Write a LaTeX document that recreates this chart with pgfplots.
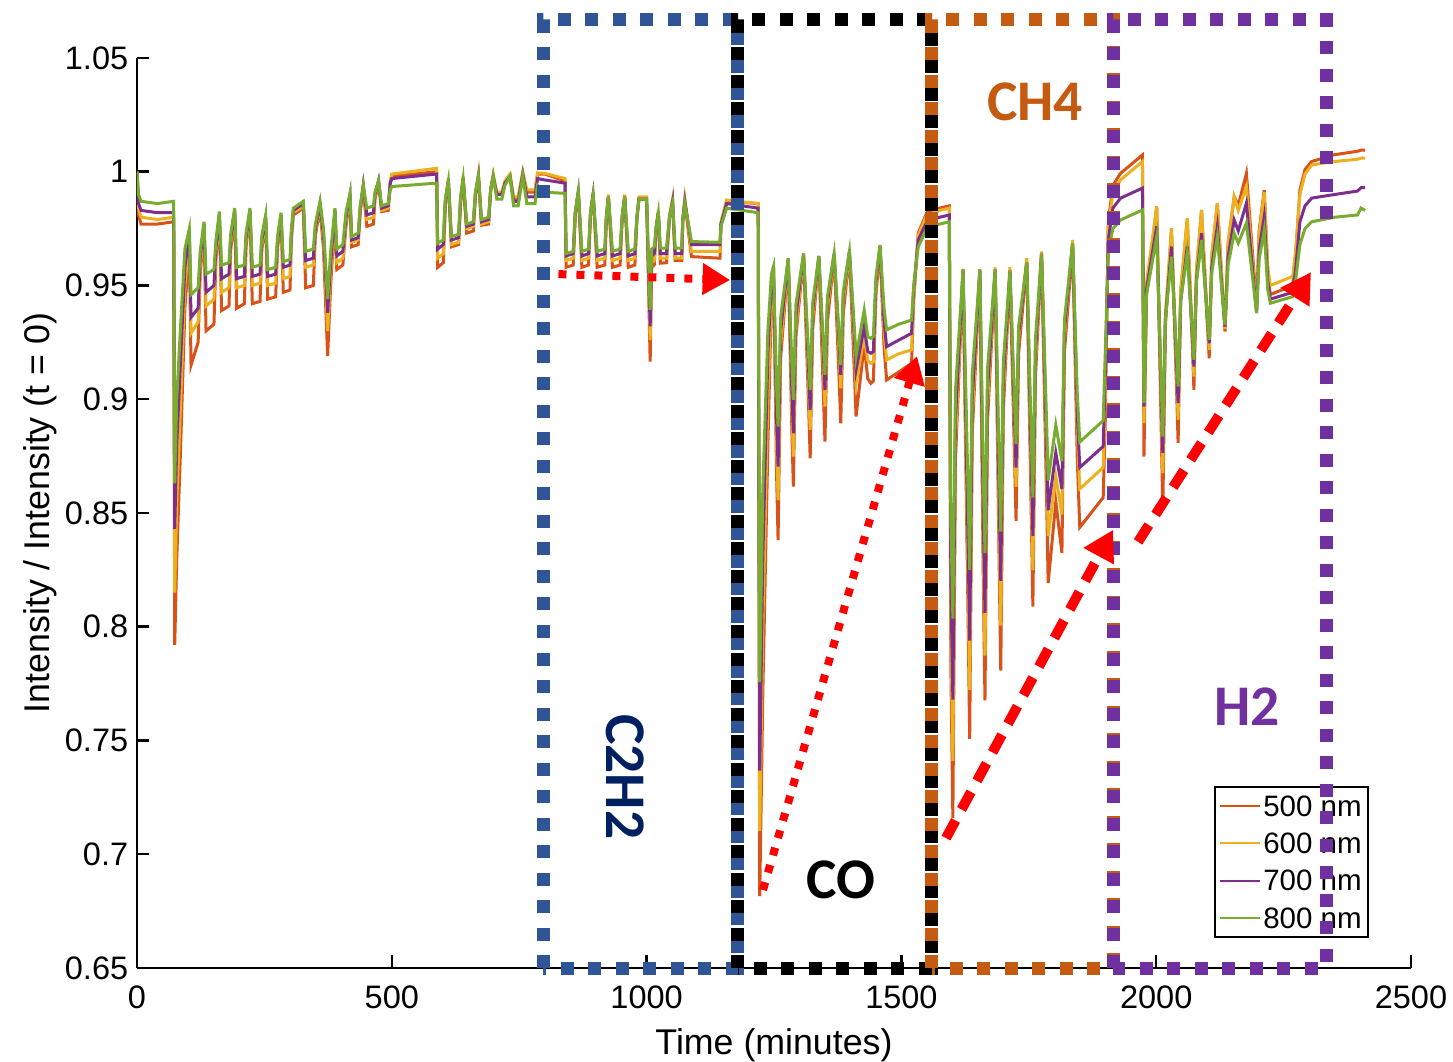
\documentclass[border=0pt]{standalone}
\usepackage{pgfplots}
\pgfplotsset{compat=1.18}
\usepackage{pgfplotstable}
\usepackage{fontspec}
\setmainfont{Liberation Sans}
\newfontfamily\calibri{Carlito}
\usetikzlibrary{arrows.meta}

\definecolor{c500}{RGB}{217,83,25}
\definecolor{c600}{RGB}{237,177,32}
\definecolor{c700}{RGB}{126,47,142}
\definecolor{c800}{RGB}{119,172,48}
\definecolor{boxblue}{RGB}{47,85,151}
\definecolor{boxorange}{RGB}{197,90,17}
\definecolor{boxpurple}{RGB}{112,48,160}
\definecolor{navy}{RGB}{0,32,96}

\pgfplotstableread{
t r y p g
0 1.000 1.000 1.000 1.000
3 0.981 0.984 0.986 0.990
8 0.977 0.980 0.983 0.987
40 0.977 0.979 0.982 0.986
72 0.978 0.980 0.982 0.987
74 0.792 0.815 0.843 0.863
78 0.830 0.855 0.880 0.900
85 0.875 0.895 0.915 0.930
94 0.940 0.950 0.958 0.966
102.7 0.968 0.971 0.973 0.975
106 0.915 0.929 0.936 0.946
120 0.925 0.934 0.940 0.949
124 0.955 0.958 0.962 0.965
131.5 0.975 0.976 0.977 0.978
135.5 0.930 0.941 0.947 0.955
151 0.933 0.944 0.950 0.957
155 0.962 0.965 0.967 0.970
161.6 0.979 0.980 0.981 0.9825
166 0.939 0.947 0.953 0.959
180.5 0.941 0.949 0.955 0.960
184 0.966 0.969 0.971 0.973
191.7 0.981 0.982 0.983 0.984
195.6 0.940 0.949 0.953 0.958
210.6 0.942 0.950 0.954 0.959
214 0.967 0.969 0.971 0.973
221.7 0.981 0.982 0.983 0.984
226.3 0.942 0.950 0.954 0.958
241.4 0.943 0.951 0.955 0.959
245 0.966 0.968 0.970 0.972
252.5 0.978 0.979 0.980 0.981
256.4 0.944 0.950 0.954 0.957
272.1 0.945 0.951 0.955 0.958
276 0.967 0.969 0.970 0.972
282.6 0.979 0.980 0.981 0.982
287.1 0.947 0.953 0.958 0.9605
300.2 0.948 0.954 0.959 0.9615
303 0.970 0.972 0.973 0.975
306.8 0.981 0.982 0.983 0.984
326.4 0.984 0.985 0.986 0.987
331 0.949 0.958 0.961 0.965
346 0.950 0.959 0.962 0.966
350 0.972 0.974 0.975 0.977
359.1 0.984 0.985 0.986 0.987
366 0.966 0.970 0.972 0.975
374.1 0.919 0.930 0.938 0.944
380 0.950 0.956 0.960 0.965
388.5 0.981 0.982 0.983 0.984
392 0.957 0.960 0.963 0.966
404 0.959 0.962 0.965 0.968
410 0.976 0.978 0.980 0.982
418 0.988 0.989 0.990 0.9905
421 0.967 0.969 0.970 0.9715
434 0.968 0.970 0.971 0.973
438 0.982 0.983 0.984 0.985
444 0.993 0.994 0.994 0.994
451 0.976 0.979 0.981 0.984
464 0.977 0.980 0.982 0.985
467 0.988 0.989 0.990 0.991
474 0.995 0.996 0.996 0.996
480 0.9825 0.983 0.984 0.985
493 0.983 0.984 0.985 0.986
497 0.995 0.996 0.995 0.992
500 0.998 0.999 0.997 0.9935
588 1.000 1.0015 0.999 0.995
590 0.958 0.962 0.966 0.9686
601 0.960 0.964 0.968 0.970
605 0.985 0.986 0.987 0.988
611 0.996 0.997 0.996 0.996
617 0.967 0.968 0.970 0.9715
631 0.968 0.969 0.971 0.9725
635 0.986 0.987 0.988 0.989
640 0.997 0.998 0.997 0.997
647 0.973 0.975 0.976 0.977
660 0.974 0.976 0.977 0.978
664 0.989 0.990 0.990 0.991
670 0.998 0.999 0.998 0.998
676 0.9765 0.977 0.978 0.979
690 0.977 0.978 0.979 0.980
694 0.992 0.992 0.992 0.992
699 0.998 0.999 0.998 0.998
706 0.990 0.991 0.990 0.988
716 0.990 0.991 0.990 0.988
722 0.995 0.996 0.995 0.994
732 0.998 0.999 0.998 0.998
739 0.988 0.989 0.987 0.985
748 0.988 0.989 0.987 0.985
757 0.999 1.000 0.999 0.998
765 0.991 0.992 0.989 0.986
781 0.991 0.992 0.989 0.986
786 0.999 0.9995 0.997 0.994
800 0.999 0.9993 0.9964 0.991
840 0.996 0.997 0.995 0.9905
842 0.958 0.961 0.963 0.964
856 0.959 0.962 0.964 0.965
860 0.981 0.982 0.982 0.982
866 0.991 0.992 0.991 0.9913
873 0.958 0.961 0.963 0.965
886 0.959 0.962 0.964 0.966
890 0.981 0.982 0.982 0.982
895 0.990 0.991 0.990 0.9898
903 0.958 0.961 0.963 0.965
918 0.959 0.962 0.964 0.966
921 0.979 0.980 0.980 0.980
925 0.989 0.990 0.989 0.989
933 0.958 0.961 0.963 0.965
948 0.959 0.962 0.964 0.966
952 0.979 0.980 0.980 0.980
957 0.989 0.990 0.989 0.989
964 0.958 0.961 0.963 0.965
977 0.959 0.962 0.964 0.966
981 0.979 0.980 0.980 0.980
985 0.988 0.989 0.988 0.988
1000 0.988 0.989 0.988 0.988
1003 0.958 0.961 0.963 0.966
1007 0.9166 0.926 0.932 0.9393
1010 0.958 0.960 0.963 0.966
1015 0.959 0.961 0.964 0.967
1019 0.975 0.976 0.976 0.976
1023 0.982 0.983 0.982 0.9818
1027 0.9598 0.962 0.964 0.9664
1039 0.960 0.962 0.964 0.9665
1045 0.980 0.981 0.980 0.980
1051 0.987 0.988 0.987 0.986
1056 0.961 0.962 0.964 0.9664
1069 0.961 0.962 0.964 0.9665
1071 0.978 0.979 0.979 0.979
1075 0.987 0.988 0.987 0.986
1088 0.9627 0.965 0.968 0.9693
1144 0.962 0.965 0.968 0.969
1146 0.977 0.978 0.977 0.976
1157 0.987 0.9876 0.986 0.984
1219 0.986 0.986 0.984 0.982
1222 0.6816 0.7102 0.7368 0.7757
1228 0.770 0.800 0.830 0.860
1238 0.880 0.900 0.920 0.930
1245 0.944 0.948 0.952 0.955
1249 0.957 0.958 0.958 0.9583
1255 0.868 0.881 0.892 0.9055
1258 0.8381 0.8557 0.8704 0.888
1263 0.918 0.9241 0.930 0.936
1278 0.961 0.961 0.962 0.962
1285 0.8865 0.8964 0.9043 0.9153
1288 0.8616 0.8748 0.885 0.8997
1293 0.9275 0.9321 0.9364 0.9415
1308 0.963 0.963 0.964 0.964
1318 0.8963 0.9056 0.9125 0.919
1321 0.874 0.8865 0.8953 0.904
1326 0.9312 0.9362 0.9393 0.9424
1338 0.962 0.962 0.963 0.963
1347 0.9016 0.9131 0.9188 0.9238
1350 0.8814 0.8968 0.904 0.9107
1355 0.9344 0.9405 0.943 0.9453
1368 0.963 0.963 0.964 0.964
1378 0.9078 0.9194 0.924 0.9273
1381 0.8894 0.9048 0.9107 0.9151
1386 0.9379 0.9433 0.946 0.9475
1398 0.964 0.964 0.965 0.965
1408 0.9103 0.9213 0.9259 0.9303
1411 0.8924 0.907 0.9129 0.9187
1427 0.9239 0.9275 0.9319 0.9392
1434 0.909 0.917 0.921 0.9275
1440 0.907 0.9158 0.9202 0.9268
1445 0.908 0.9165 0.921 0.9275
1450 0.9462 0.9498 0.9514 0.9537
1458 0.966 0.967 0.967 0.9678
1466 0.923 0.9297 0.9341 0.9398
1471 0.9085 0.9173 0.9231 0.9305
1495 0.912 0.920 0.926 0.933
1520 0.9158 0.9217 0.929 0.9348
1524 0.943 0.945 0.948 0.950
1533 0.973 0.972 0.970 0.967
1550 0.982 0.981 0.978 0.975
1575 0.984 0.983 0.980 0.977
1594 0.985 0.984 0.981 0.978
1597 0.783 0.802 0.821 0.847
1601 0.716 0.741 0.768 0.8036
1606 0.8729 0.8816 0.891 0.9035
1621 0.956 0.957 0.957 0.9573
1631 0.802 0.8185 0.8347 0.8581
1634 0.7507 0.7723 0.7939 0.825
1639 0.8848 0.8924 0.900 0.9108
1654 0.956 0.957 0.957 0.957
1661 0.8147 0.8297 0.8438 0.8636
1664 0.7676 0.7873 0.8061 0.8324
1669 0.8907 0.8983 0.9042 0.9134
1684 0.956 0.958 0.957 0.957
1692 0.8245 0.8399 0.8544 0.8706
1695 0.7807 0.8005 0.8202 0.8418
1700 0.8949 0.9029 0.9087 0.9163
1713 0.956 0.958 0.9565 0.9564
1722 0.874 0.8856 0.8916 0.8993
1725 0.8465 0.8615 0.870 0.8803
1730 0.9203 0.9268 0.9285 0.9321
1746 0.960 0.962 0.960 0.960
1755 0.8467 0.8592 0.870 0.8826
1758 0.8089 0.8249 0.8399 0.8568
1763 0.9097 0.916 0.9206 0.9264
1775 0.964 0.965 0.964 0.9639
1785 0.8554 0.8712 0.8794 0.8892
1788 0.8192 0.8399 0.8512 0.8643
1803 0.8549 0.866 0.8765 0.8887
1811 0.840 0.855 0.866 0.878
1815 0.8324 0.8493 0.8605 0.8728
1820 0.9209 0.9278 0.9308 0.935
1836 0.968 0.970 0.9686 0.9686
1845 0.8748 0.888 0.8947 0.9031
1850 0.8437 0.8606 0.870 0.8812
1896 0.8568 0.870 0.8793 0.8906
1900 0.890 0.900 0.910 0.920
1906 0.978 0.975 0.970 0.965
1915 0.994 0.991 0.984 0.975
1930 0.9993 0.9964 0.9884 0.9788
1973 1.0074 1.0045 0.9928 0.9832
1976 0.8748 0.8895 0.8968 0.8983
1981 0.9462 0.9514 0.9483 0.9459
2001 0.9847 0.9847 0.976 0.9715
2010 0.8847 0.8968 0.9012 0.9056
2013 0.8514 0.8675 0.8763 0.8836
2018 0.9319 0.9375 0.9353 0.935
2030 0.9752 0.9752 0.9671 0.9627
2040 0.9043 0.9121 0.9155 0.9199
2043 0.8807 0.891 0.8983 0.9056
2048 0.945 0.9486 0.943 0.9437
2061 0.9796 0.9796 0.9671 0.9642
2071 0.923 0.9274 0.9276 0.929
2074 0.9041 0.910 0.9144 0.9173
2079 0.9555 0.9576 0.9525 0.9516
2089 0.9832 0.9832 0.973 0.970
2100 0.9343 0.9371 0.9367 0.9371
2104 0.918 0.9217 0.9246 0.9261
2109 0.9623 0.9636 0.958 0.9556
2120 0.9862 0.9862 0.9759 0.9715
2131 0.9439 0.9448 0.943 0.9424
2135 0.9298 0.931 0.932 0.9327
2141 0.9683 0.9687 0.9624 0.9589
2153 0.9891 0.989 0.9788 0.973
2161 0.985 0.983 0.974 0.9686
2177 0.9993 0.9935 0.9862 0.9774
2192 0.9554 0.9526 0.950 0.9477
2197 0.9407 0.939 0.938 0.9378
2202 0.974 0.9728 0.9655 0.9616
2212 0.992 0.991 0.9803 0.9744
2219 0.955 0.958 0.952 0.948
2224 0.946 0.950 0.944 0.9422
2268 0.950 0.954 0.947 0.9451
2274 0.965 0.966 0.958 0.953
2282 0.992 0.990 0.978 0.968
2292 1.001 0.999 0.985 0.975
2305 1.0045 1.003 0.9884 0.978
2350 1.0075 1.0045 0.990 0.980
2395 1.009 1.0055 0.9915 0.981
2402 1.0095 1.006 0.993 0.984
2410 1.0095 1.006 0.993 0.983
}\data

\begin{document}
\begin{tikzpicture}
\begin{axis}[
  at={(0pt,0pt)}, anchor=south west,
  scale only axis, width=509.6pt, height=364pt,
  xmin=0, xmax=2500, ymin=0.65, ymax=1.05,
  axis x line*=bottom, axis y line*=left,
  axis line style={line width=1pt, -},
  x axis line style={-}, y axis line style={-},
  tick align=inside, major tick length=5pt,
  every tick/.style={black, line width=1pt},
  xtick={0,500,1000,1500,2000,2500},
  xticklabels={0,500,1000,1500,2000,2500},
  ytick={0.65,0.7,0.75,0.8,0.85,0.9,0.95,1,1.05},
  yticklabels={0.65,0.7,0.75,0.8,0.85,0.9,0.95,1,1.05},
  tick label style={font=\fontsize{13}{15}\selectfont},
  xticklabel style={yshift=-3.5pt},
  xlabel={Time (minutes)},
  ylabel={Intensity / Intensity (t = 0)},
  label style={font=\fontsize{14.3}{17}\selectfont},
  xlabel style={at={(axis description cs:0.5,-0.0846)}, anchor=center},
  ylabel style={at={(axis description cs:-0.0761,0.5)}, anchor=center},
  legend style={at={(axis description cs:0.967,0.033)}, anchor=south east,
    draw=black, line width=0.8pt, fill=white,
    font=\fontsize{11.8}{13}\selectfont,
    inner xsep=1.5pt, inner ysep=2.5pt, row sep=4.7pt,
    nodes={inner sep=1pt, text depth=0pt}},
  legend image code/.code={\draw[#1, line width=0.8pt] (0pt,0pt) -- (16pt,0pt);},
  legend cell align=left,
  every axis plot/.append style={line width=1.2pt},
]
\addplot[c500, no markers] table[x=t, y=r]{\data};
\addlegendentry{500 nm}
\addplot[c600, no markers] table[x=t, y=y]{\data};
\addlegendentry{600 nm}
\addplot[c700, no markers] table[x=t, y=p]{\data};
\addlegendentry{700 nm}
\addplot[c800, no markers] table[x=t, y=g]{\data};
\addlegendentry{800 nm}
\end{axis}

\begin{scope}[x=0.20384pt, y=910pt, shift={(0pt,-591.5pt)}]
  \tikzset{sq/.style={line width=5.2pt, dash pattern=on 5.2pt off 5.8pt}}
  \draw[sq, boxblue] (796.7,0.65) rectangle (1179.3,1.0667);
  \draw[sq, black] (1179.3,0.65) rectangle (1560,1.0667);
  \draw[sq, boxorange] (1560,0.65) rectangle (1915.2,1.0667);
  \draw[sq, boxpurple] (1915.2,0.65) rectangle (2333.2,1.0667);

  \draw[red, line width=3.2pt, dash pattern=on 3.2pt off 4pt, -{Triangle[length=11pt, width=12pt]}] (827,0.955) -- (1164,0.9524);
  \draw[red, line width=3.2pt, dash pattern=on 3.2pt off 4pt, -{Triangle[length=11pt, width=12pt]}] (1228.4,0.6843) -- (1530.6,0.9190);
  \draw[red, line width=4pt, dash pattern=on 8pt off 5pt, -{Triangle[length=12pt, width=13pt]}] (1587.5,0.7071) -- (1915.2,0.8426);
  \draw[red, line width=4pt, dash pattern=on 8pt off 5pt, -{Triangle[length=12pt, width=13pt]}] (1964.3,0.8373) -- (2303.8,0.9559);

  \node[font=\calibri\bfseries\fontsize{23}{27}\selectfont, text=navy, rotate=-90] at (957.6,0.734) {C2H2};
  \node[font=\calibri\bfseries\fontsize{23}{27}\selectfont, text=black] at (1381.5,0.6887) {CO};
  \node[font=\calibri\bfseries\fontsize{23}{27}\selectfont, text=boxorange] at (1762.1,1.0307) {CH4};
  \node[font=\calibri\bfseries\fontsize{23}{27}\selectfont, text=boxpurple] at (2178.2,0.7647) {H2};
\end{scope}

\pgfresetboundingbox
\path[use as bounding box] (-54.8pt,-37.6pt) rectangle (526.4pt,387.2pt);
\end{tikzpicture}
\end{document}
